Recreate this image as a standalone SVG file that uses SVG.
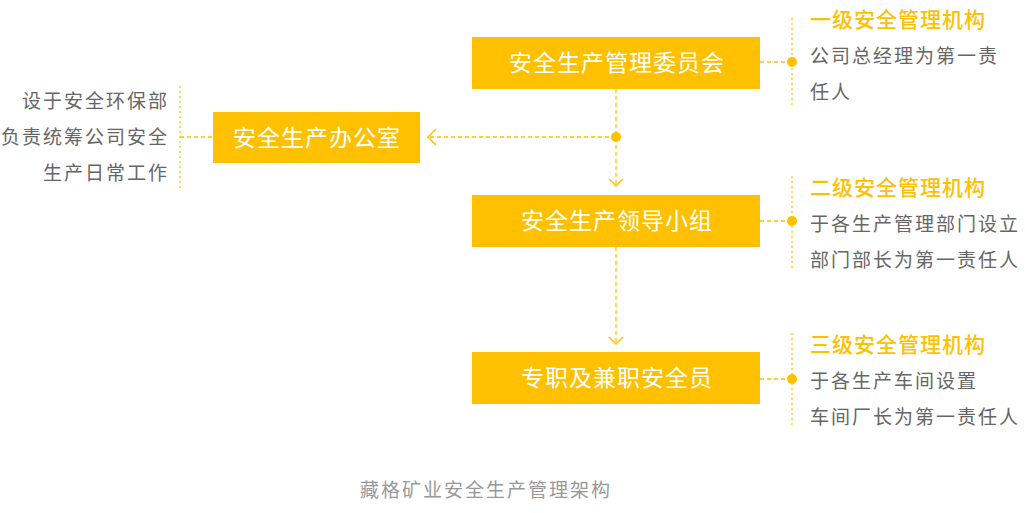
<svg xmlns="http://www.w3.org/2000/svg" width="1025" height="513" viewBox="0 0 1025 513">
<style>
.box{fill:#FFC000}
.bt{font-family:"Noto Sans CJK SC","Noto Sans",sans-serif;font-size:23px;fill:#fff;letter-spacing:1px;text-anchor:middle}
.tt{font-family:"Noto Sans CJK SC","Noto Sans",sans-serif;font-size:21px;font-weight:500;fill:#FFC000;letter-spacing:1px}
.gt{font-family:"Noto Sans CJK SC","Noto Sans",sans-serif;font-size:19px;fill:#666;letter-spacing:2px}
.gr{text-anchor:end}
.cap{font-family:"Noto Sans CJK SC","Noto Sans",sans-serif;font-size:19px;fill:#999;letter-spacing:2px}
.dash{stroke:#FFC000;stroke-width:1.3;fill:none;stroke-dasharray:4 3}
.dot{stroke:#FFC000;stroke-width:1.3;fill:none;stroke-dasharray:2 3}
.arr{stroke:#FFC000;stroke-width:1.5;fill:none}
</style>
<g id="connectors">
<line class="dash" x1="616" y1="89" x2="616" y2="185"/>
<line class="dash" x1="616" y1="137" x2="430" y2="137"/>
<polyline class="arr" points="436,129 428,137 436,145"/>
<polyline class="arr" points="609,179 616,186 623,179"/>
<line class="dash" x1="616" y1="247" x2="616" y2="343"/>
<polyline class="arr" points="609,337 616,344 623,337"/>
<circle cx="616" cy="137" r="5" fill="#FFC000"/>
<line class="dash" x1="760" y1="62" x2="792" y2="62"/>
<line class="dash" x1="760" y1="221" x2="792" y2="221"/>
<line class="dash" x1="760" y1="379" x2="792" y2="379"/>
<line class="dash" x1="180" y1="137" x2="213" y2="137"/>
</g>
<g id="n1">
<rect class="box" x="472" y="37" width="288" height="52"/>
<text class="bt" x="617" y="71">安全生产管理委员会</text>
</g>
<g id="n2">
<rect class="box" x="213" y="112" width="207" height="51"/>
<text class="bt" x="317" y="146">安全生产办公室</text>
</g>
<g id="n3">
<rect class="box" x="472" y="195" width="288" height="52"/>
<text class="bt" x="617" y="229">安全生产领导小组</text>
</g>
<g id="n4">
<rect class="box" x="472" y="352" width="288" height="52"/>
<text class="bt" x="617" y="386">专职及兼职安全员</text>
</g>
<g id="note1">
<line class="dot" x1="792" y1="18" x2="792" y2="106"/>
<circle cx="792" cy="62" r="5" fill="#FFC000"/>
<text class="tt" x="810" y="27">一级安全管理机构</text>
<text class="gt" x="810" y="63">公司总经理为第一责</text>
<text class="gt" x="810" y="99">任人</text>
</g>
<g id="note2">
<line class="dot" x1="792" y1="176" x2="792" y2="268"/>
<circle cx="792" cy="221" r="5" fill="#FFC000"/>
<text class="tt" x="810" y="195">二级安全管理机构</text>
<text class="gt" x="810" y="231">于各生产管理部门设立</text>
<text class="gt" x="810" y="267">部门部长为第一责任人</text>
</g>
<g id="note3">
<line class="dot" x1="792" y1="333" x2="792" y2="425"/>
<circle cx="792" cy="379" r="5" fill="#FFC000"/>
<text class="tt" x="810" y="352">三级安全管理机构</text>
<text class="gt" x="810" y="388">于各生产车间设置</text>
<text class="gt" x="810" y="424">车间厂长为第一责任人</text>
</g>
<g id="note-left">
<line class="dot" x1="180" y1="86" x2="180" y2="190"/>
<text class="gt gr" x="169" y="108">设于安全环保部</text>
<text class="gt gr" x="169" y="144">负责统筹公司安全</text>
<text class="gt gr" x="169" y="180">生产日常工作</text>
</g>
<text class="cap" x="360" y="497">藏格矿业安全生产管理架构</text>
</svg>
